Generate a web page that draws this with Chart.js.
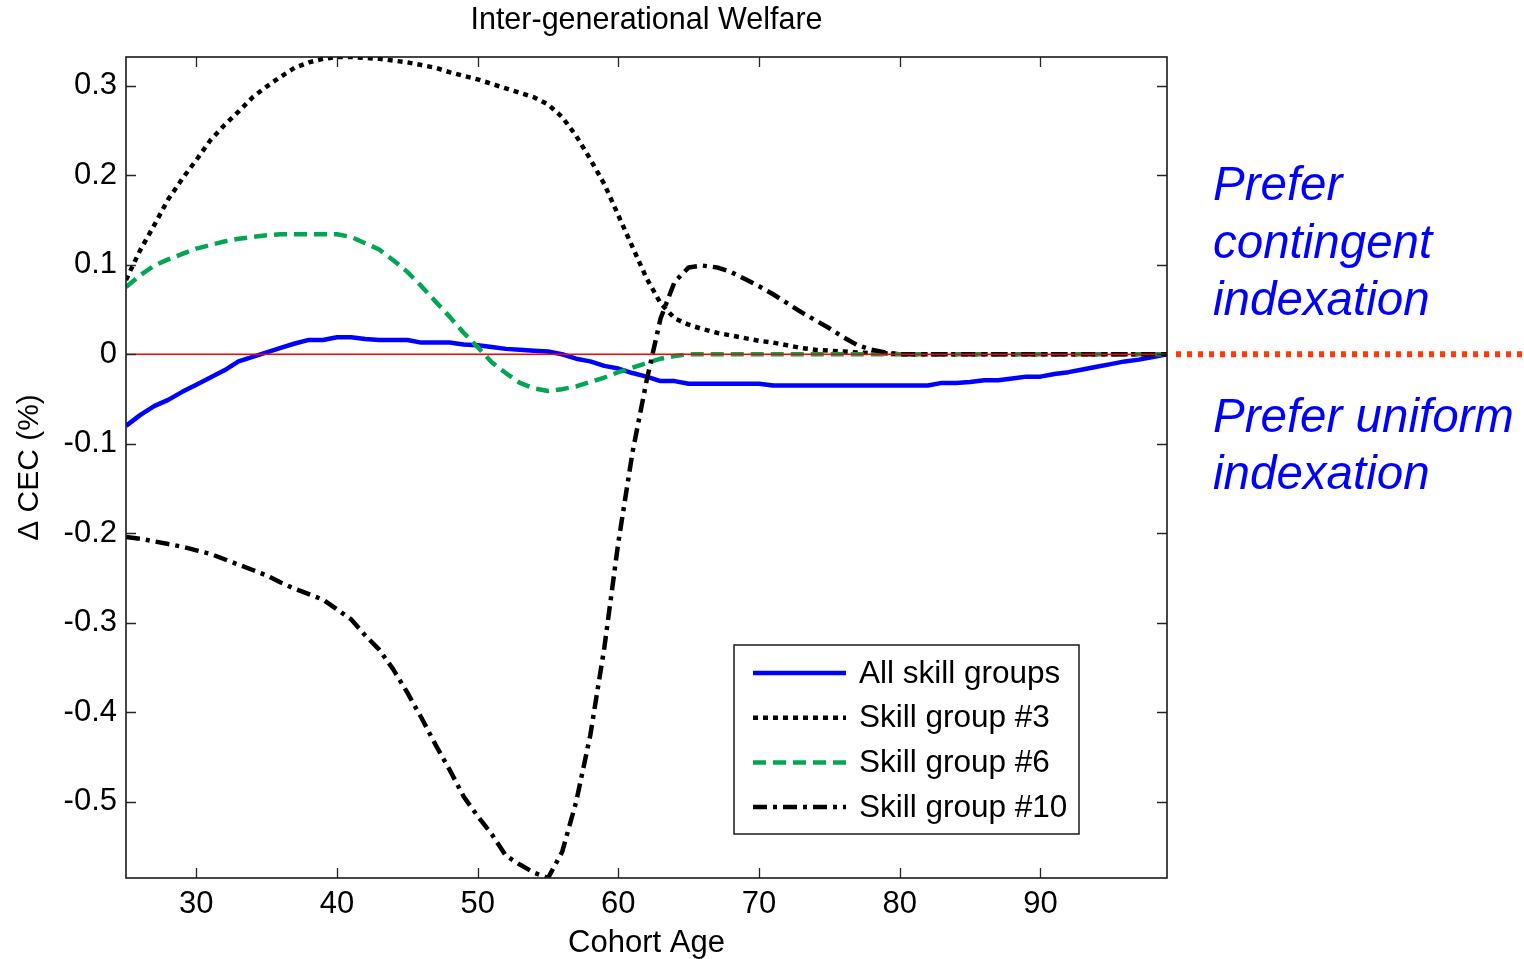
<!DOCTYPE html>
<html><head><meta charset="utf-8">
<script src="https://cdn.jsdelivr.net/npm/chart.js@4.4.1/dist/chart.umd.min.js"></script>
<style>html,body{margin:0;padding:0;background:#fff;overflow:hidden;} #wrap{width:1524px;height:959px;position:relative;}</style>
</head><body><div id="wrap"><canvas id="c" width="1524" height="959"></canvas></div>
<script>
const ages = [25,26,27,28,29,30,31,32,33,34,35,36,37,38,39,40,41,42,43,44,45,46,47,48,49,50,51,52,53,54,55,56,57,58,59,60,61,62,63,64,65,66,67,68,69,70,71,72,73,74,75,76,77,78,79,80,81,82,83,84,85,86,87,88,89,90,91,92,93,94,95,96,97,98,99];
const allSkill = [-0.080,-0.068,-0.058,-0.051,-0.042,-0.034,-0.026,-0.018,-0.008,-0.003,
 0.002,0.007,0.012,0.016,0.016,0.019,0.019,0.017,0.016,0.016,
 0.016,0.013,0.013,0.013,0.011,0.010,0.008,0.006,0.005,0.004,
 0.003,0.000,-0.005,-0.008,-0.013,-0.016,-0.021,-0.025,-0.030,-0.030,
 -0.033,-0.033,-0.033,-0.033,-0.033,-0.033,-0.035,-0.035,-0.035,-0.035,
 -0.035,-0.035,-0.035,-0.035,-0.035,-0.035,-0.035,-0.035,-0.032,-0.032,
 -0.031,-0.029,-0.029,-0.027,-0.025,-0.025,-0.022,-0.020,-0.017,-0.014,
 -0.011,-0.008,-0.006,-0.003,0.000];
const skill3 = [0.083,0.116,0.144,0.173,0.196,0.217,0.239,0.256,0.271,0.287,
 0.299,0.310,0.320,0.326,0.330,0.332,0.332,0.331,0.330,0.328,
 0.326,0.323,0.320,0.315,0.311,0.307,0.302,0.297,0.292,0.287,
 0.279,0.265,0.244,0.218,0.190,0.155,0.120,0.085,0.057,0.040,
 0.033,0.028,0.024,0.021,0.018,0.015,0.013,0.010,0.007,0.005,
 0.004,0.003,0.002,0.001,0.001,0,0,0,0,0,
 0,0,0,0,0,0,0,0,0,0,
 0,0,0,0,0];
const skill6 = [0.075,0.088,0.099,0.106,0.112,0.118,0.122,0.126,0.129,0.131,
 0.133,0.134,0.134,0.134,0.134,0.134,0.131,0.124,0.117,0.105,
 0.092,0.076,0.059,0.042,0.024,0.008,-0.009,-0.021,-0.032,-0.038,
 -0.041,-0.039,-0.036,-0.031,-0.026,-0.020,-0.015,-0.010,-0.005,-0.002,
 0,0,0,0,0,0,0,0,0,0,
 0,0,0,0,0,0,0,0,0,0,
 0,0,0,0,0,0,0,0,0,0,
 0,0,0,0,0];
const skill10 = [-0.204,-0.206,-0.209,-0.212,-0.215,-0.219,-0.223,-0.229,-0.235,-0.241,
 -0.247,-0.255,-0.262,-0.268,-0.274,-0.285,-0.296,-0.314,-0.330,-0.352,
 -0.378,-0.406,-0.436,-0.464,-0.494,-0.516,-0.536,-0.560,-0.570,-0.579,
 -0.585,-0.556,-0.500,-0.426,-0.328,-0.210,-0.110,-0.030,0.040,0.081,
 0.097,0.099,0.097,0.092,0.084,0.076,0.067,0.057,0.047,0.038,
 0.029,0.019,0.010,0.005,0.002,0,0,0,0,0,
 0,0,0,0,0,0,0,0,0,0,
 0,0,0,0,0];
const seriesNames = ['All skill groups','Skill group #3','Skill group #6','Skill group #10'];
const xTicks = [30,40,50,60,70,80,90];
const yTicks = [-0.5,-0.4,-0.3,-0.2,-0.1,0,0.1,0.2,0.3];
const yTickLabels = ['-0.5','-0.4','-0.3','-0.2','-0.1','0','0.1','0.2','0.3'];
const xRange = [25, 99];
const yRange = [-0.585, 0.332];
const titleText = 'Inter-generational Welfare';
const xTitle = 'Cohort Age';
const yTitle = '\u0394 CEC (%)';
const noteAbove = ['Prefer','contingent','indexation'];
const noteBelow = ['Prefer uniform','indexation'];

const FONT = "'Liberation Sans', Arial, Helvetica, sans-serif";
const pts = vals => ages.map((a,i)=>({x:a,y:vals[i]}));

const deco = {
  id:'deco',
  afterDatasetsDraw(chart){
    const {ctx, chartArea:a, scales:{x,y}} = chart;
    ctx.save();
    const y0 = y.getPixelForValue(0);
    ctx.strokeStyle='#ff0000'; ctx.lineWidth=1.3; ctx.setLineDash([]);
    ctx.beginPath(); ctx.moveTo(a.left,y0); ctx.lineTo(a.right,y0); ctx.stroke();
    ctx.strokeStyle='#262626'; ctx.lineWidth=1.3;
    x.ticks.forEach(t=>{const p=Math.round(x.getPixelForValue(t.value))+0.5;
      ctx.beginPath(); ctx.moveTo(p,a.bottom); ctx.lineTo(p,a.bottom-10); ctx.moveTo(p,a.top); ctx.lineTo(p,a.top+10); ctx.stroke();});
    y.ticks.forEach(t=>{const p=Math.round(y.getPixelForValue(t.value))+0.5;
      ctx.beginPath(); ctx.moveTo(a.left,p); ctx.lineTo(a.left+10,p); ctx.moveTo(a.right,p); ctx.lineTo(a.right-10,p); ctx.stroke();});
    ctx.lineWidth=1.6; ctx.strokeStyle='#1a1a1a';
    ctx.strokeRect(a.left,a.top,a.right-a.left,a.bottom-a.top);
    ctx.restore();
  },
  afterDraw(chart){
    const {ctx, chartArea:a, scales:{y}} = chart;
    ctx.save();
    ctx.fillStyle='#000'; ctx.font='30.5px '+FONT; ctx.textAlign='center'; ctx.textBaseline='middle';
    ctx.fillText(titleText,(a.left+a.right)/2,21);
    const y0 = y.getPixelForValue(0);
    ctx.strokeStyle='#ff3a0a'; ctx.lineWidth=6; ctx.setLineDash([5,6]); ctx.lineCap='butt';
    ctx.beginPath(); ctx.moveTo(a.right+9,y0); ctx.lineTo(chart.width,y0); ctx.stroke();
    ctx.setLineDash([]);
    ctx.fillStyle='#0000ff'; ctx.font='italic 47.5px '+FONT; ctx.textAlign='left'; ctx.textBaseline='alphabetic';
    noteAbove.forEach((t,i)=>ctx.fillText(t,a.right+46,200+i*57.5));
    noteBelow.forEach((t,i)=>ctx.fillText(t,a.right+46,432+i*56.5));
    const bw=345, bh=189;
    const bx=a.right-88-bw, by=a.bottom-44-bh;
    ctx.fillStyle='#fff'; ctx.fillRect(bx,by,bw,bh);
    ctx.strokeStyle='#1a1a1a'; ctx.lineWidth=1.5; ctx.strokeRect(bx,by,bw,bh);
    ctx.font='31.5px '+FONT; ctx.textBaseline='middle';
    chart.data.datasets.forEach((ds,i)=>{
      const ry = by+28+i*44.7;
      ctx.strokeStyle=ds.borderColor; ctx.lineWidth=ds.borderWidth; ctx.setLineDash(ds.borderDash||[]);
      ctx.beginPath(); ctx.moveTo(bx+19,ry); ctx.lineTo(bx+112,ry); ctx.stroke();
      ctx.setLineDash([]);
      ctx.fillStyle='#000'; ctx.fillText(ds.label,bx+125,ry+1);
    });
    ctx.restore();
  }
};

const common = {pointRadius:0, pointHoverRadius:0, tension:0, fill:false, borderCapStyle:'butt', borderJoinStyle:'round', borderWidth:4.5};
new Chart(document.getElementById('c'), {
  type:'line',
  data:{datasets:[
    Object.assign({label:seriesNames[0], data:pts(allSkill), borderColor:'#0000ff', order:3}, common),
    Object.assign({label:seriesNames[1], data:pts(skill3), borderColor:'#000000', borderDash:[5,5], order:2}, common),
    Object.assign({label:seriesNames[2], data:pts(skill6), borderColor:'#00a651', borderDash:[13,7], order:1}, common),
    Object.assign({label:seriesNames[3], data:pts(skill10), borderColor:'#000000', borderDash:[14,6,4,6], order:0}, common)
  ]},
  options:{
    responsive:false, animation:false, devicePixelRatio:1,
    layout:{padding:{top:57,right:357,left:0,bottom:0}},
    plugins:{legend:{display:false}, title:{display:false}, tooltip:{enabled:false}},
    scales:{
      x:{type:'linear', min:xRange[0], max:xRange[1],
        grid:{display:false, drawTicks:false}, border:{display:false},
        afterBuildTicks:s=>{s.ticks = xTicks.map(v=>({value:v}));},
        afterFit:s=>{s.height=81;},
        ticks:{font:{family:FONT,size:31}, color:'#000', padding:8, autoSkip:false, maxRotation:0, callback:v=>String(v)},
        title:{display:true, text:xTitle, font:{family:FONT,size:31,lineHeight:1.0}, color:'#000', padding:{top:0,bottom:0}}
      },
      y:{type:'linear', min:yRange[0], max:yRange[1],
        grid:{display:false, drawTicks:false}, border:{display:false},
        afterBuildTicks:s=>{s.ticks = yTicks.map(v=>({value:v}));},
        afterFit:s=>{s.width=126;},
        ticks:{font:{family:FONT,size:31}, color:'#000', padding:9, autoSkip:false, callback:v=>{const k=yTicks.indexOf(v); return k>=0?yTickLabels[k]:'';}},
        title:{display:true, text:yTitle, font:{family:FONT,size:30,lineHeight:1.0}, color:'#000', padding:{top:15,bottom:0}}
      }
    }
  },
  plugins:[deco]
});
</script></body></html>
